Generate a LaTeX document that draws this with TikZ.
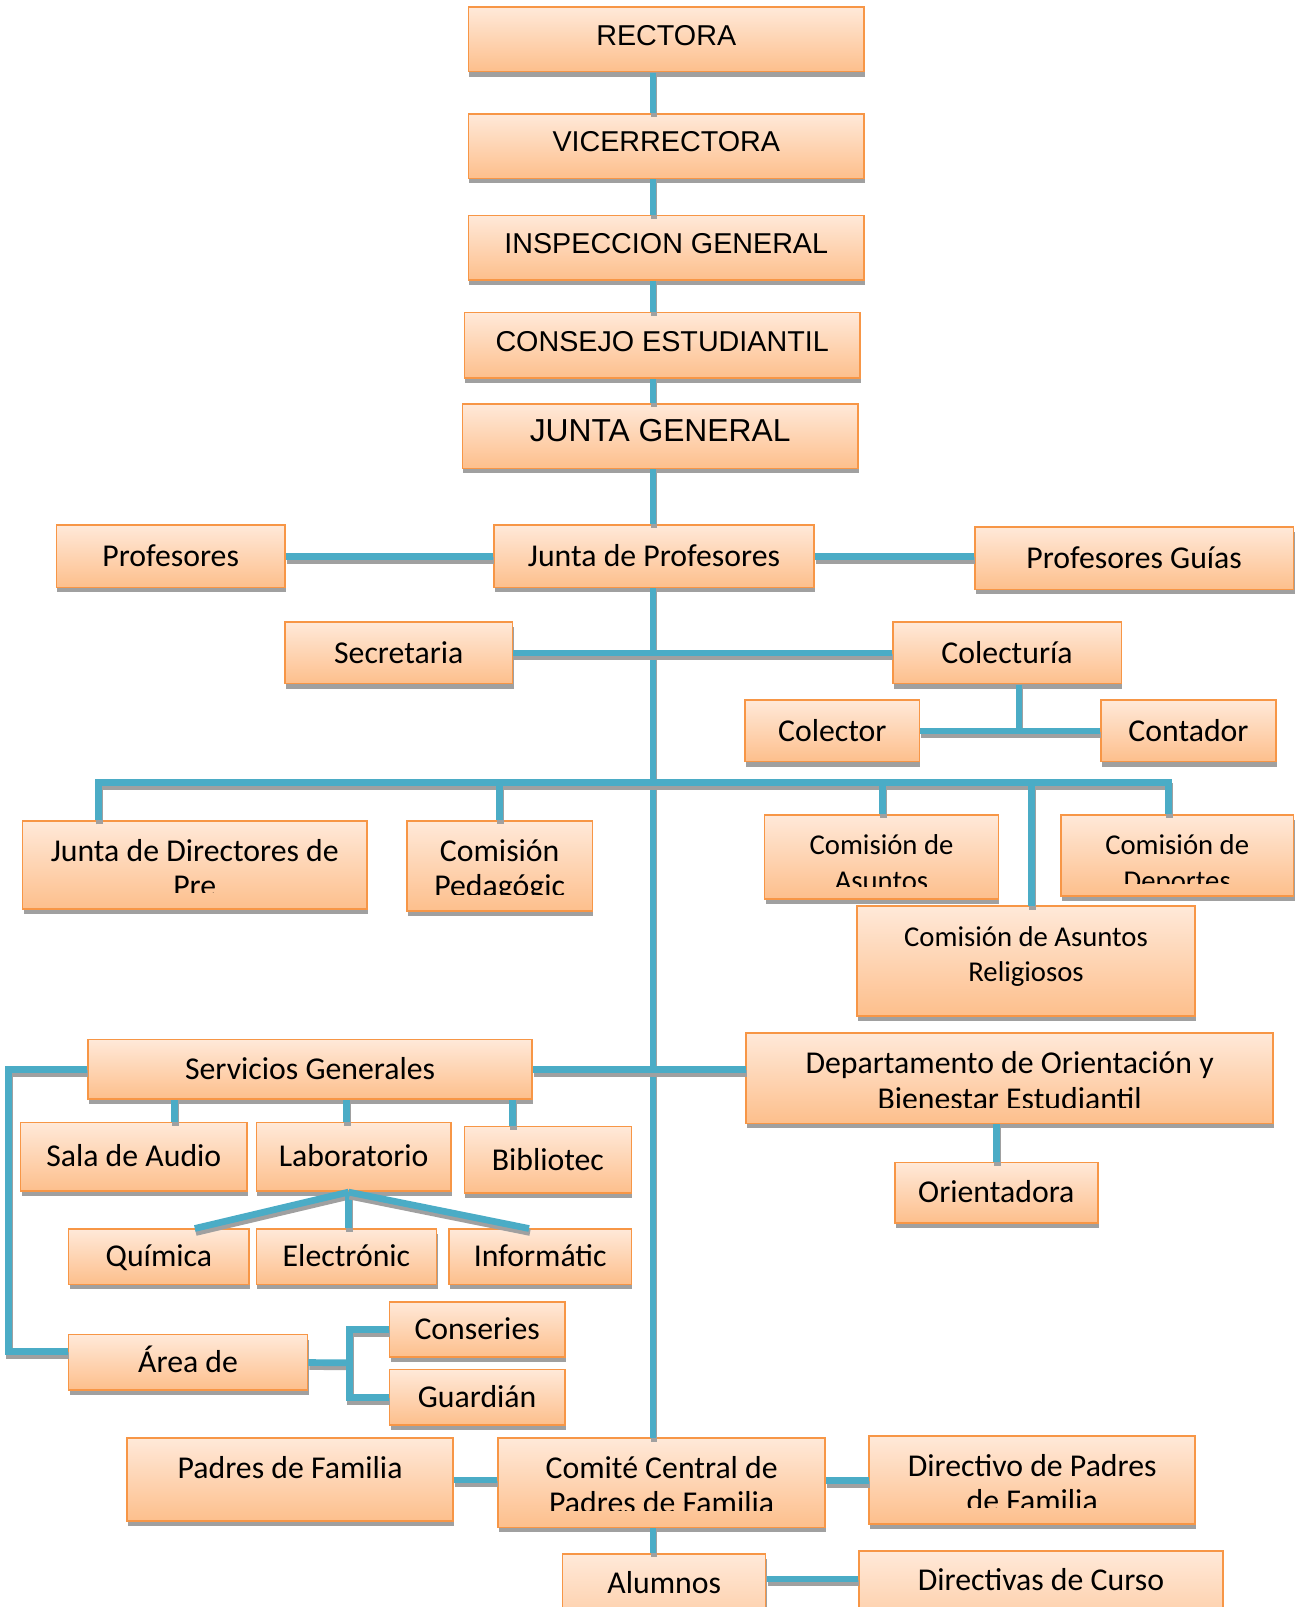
\documentclass[tikz,border=0pt]{standalone}
\usepackage{fontspec}
\setmainfont{Carlito}
\newfontfamily\arialfont{Liberation Sans}
\usetikzlibrary{shadows}
\definecolor{boxtop}{HTML}{FFE9D9}
\definecolor{boxbot}{HTML}{FDBF8C}
\definecolor{boxline}{HTML}{F79646}
\definecolor{linkblue}{HTML}{4BACC6}
\definecolor{shadowgray}{HTML}{A0A0A0}
\newcommand\calfont{\fontsize{31}{36}\selectfont}
\newcommand\calsmall{\fontsize{28}{34}\selectfont}
\newcommand\capsfont{\arialfont\fontsize{28}{34}\selectfont}
\newcommand\capsbig{\arialfont\fontsize{31}{36}\selectfont}

\tikzset{
  clipcut/.store in=\clipcut, clipcut=16,
  box/.style={draw=boxline, line width=1.5pt, top color=boxtop, bottom color=boxbot,
    inner sep=0pt, text height=20pt, text depth=0pt,
    drop shadow={shadow xshift=1pt, shadow yshift=-5pt, fill=shadowgray, opacity=1}},
  caps/.style={font=\capsfont, text depth=9pt},
  small/.style={font=\calsmall, clipcut=12},
  sz/.style 2 args={minimum width=#1pt, minimum height=#2pt},
  tall/.style 2 args={path picture={
    \clip ([yshift=\clipcut pt]path picture bounding box.south west) rectangle (path picture bounding box.north east);
    \node[anchor=base, inner sep=0pt, minimum size=0pt] at ([yshift=-39pt]path picture bounding box.north) {#1};
    \node[anchor=base, inner sep=0pt, minimum size=0pt] at ([yshift=-74pt]path picture bounding box.north) {#2};}},
  link/.style={draw=linkblue, line width=6.7pt,
    preaction={draw=shadowgray, line width=6.7pt, transform canvas={shift={(1pt,-4pt)}}}}
}

\begin{document}
\begin{tikzpicture}[x=1pt, y=-1pt, scale=1.025, transform shape, font=\calfont]
\useasboundingbox (0,0) rectangle (1266.3,1567.8);

% direccion
\node[box, caps, sz={386}{63}] (rect) at (650,38.5) {RECTORA};
\node[box, caps, sz={386}{63}] (vice) at (650,142.5) {VICERRECTORA};
\node[box, caps, sz={386}{63}] (insp) at (650,241.5) {INSPECCION GENERAL};
\node[box, caps, sz={386}{64}] (cons) at (646,337) {CONSEJO ESTUDIANTIL};
\node[box, caps, font=\capsbig, sz={386}{63}] (jgen) at (644,425.5) {JUNTA GENERAL};

% profesores
\node[box, sz={223}{61}] (prof) at (166.5,542.5) {Profesores};
\node[box, sz={312}{61}] (jprof) at (638,542.5) {Junta de Profesores};
\node[box, sz={311}{61}] (guias) at (1106.5,544.5) {Profesores Guías};
\node[box, sz={222}{60}] (secre) at (389,637) {Secretaria};
\node[box, sz={223}{60}] (colect) at (982.5,637) {Colecturía};
\node[box, sz={170}{60}] (colector) at (812,713) {Colector};
\node[box, sz={171}{60}] (conta) at (1159.5,713) {Contador};

% comisiones
\node[box, sz={336}{86}, tall={Junta de Directores de}{Pre}] (jdir) at (190,844) {};
\node[box, sz={181}{88}, tall={Comisión}{Pedagógic}] (cped) at (487.5,845) {};
\node[box, small, sz={228}{82}, tall={Comisión de}{Asuntos}] (casu) at (860,836) {};
\node[box, small, sz={227}{79}, tall={Comisión de}{Deportes}] (cdep) at (1148.5,834.5) {};
\node[box, small, sz={330}{107}, tall={Comisión de Asuntos}{Religiosos}] (crel) at (1001,937.5) {};

% servicios
\node[box, sz={433}{58}] (serv) at (302.5,1043) {Servicios Generales};
\node[box, sz={514}{88}, tall={Departamento de Orientación y}{Bienestar Estudiantil}] (depto) at (985,1052) {};
\node[box, sz={198}{59}] (ori) at (972,1163.5) {Orientadora};
\node[box, sz={221}{67}] (sala) at (130.5,1128.5) {Sala de Audio};
\node[box, sz={190}{67}] (lab) at (345,1128.5) {Laboratorio};
\node[box, sz={163}{65}] (bib) at (534.5,1131.5) {Bibliotec};
\node[box, sz={176}{54}] (quim) at (155,1226) {Química};
\node[box, sz={176}{54}] (elec) at (338,1226) {Electrónic};
\node[box, sz={178}{54}] (info) at (527,1226) {Informátic};
\node[box, sz={233}{54}] (area) at (183.5,1329) {Área de};
\node[box, sz={171}{54}] (conse) at (465.5,1297) {Conseries};
\node[box, sz={171}{54}] (guard) at (465.5,1363) {Guardián};

% padres y alumnos
\node[box, sz={318}{81}, tall={Padres de Familia}{}] (padres) at (283,1443.5) {};
\node[box, sz={319}{87}, tall={Comité Central de}{Padres de Familia}] (comite) at (645.5,1446.5) {};
\node[box, sz={318}{86}, tall={Directivo de Padres}{de Familia}] (dirp) at (1007,1444) {};
\node[box, sz={198}{104}, tall={Alumnos}{}] (alum) at (648,1568) {};
\node[box, sz={355}{107}, tall={Directivas de Curso}{}] (dcur) at (1015.5,1566.5) {};

% guias
\coordinate (t) at (637,0);
\coordinate (cj) at (994,713);
\coordinate (b1) at (96,763);
\coordinate (b2) at (487,763);
\coordinate (b3) at (861,763);
\coordinate (b4) at (1006,763);
\coordinate (b5) at (1140,763);
\coordinate (s1) at (170,0);
\coordinate (s2) at (338,0);
\coordinate (s3) at (500,0);
\coordinate (f) at (340,0);
\coordinate (q) at (190,0);
\coordinate (i) at (516,0);
\coordinate (lw) at (8,0);
\coordinate (ad) at (0,1540);
\path (area.east) ++(40,0) coordinate (ag);

% conectores
\draw[link] (t |- rect.south) -- (t |- vice.north);
\draw[link] (t |- vice.south) -- (t |- insp.north);
\draw[link] (t |- insp.south) -- (t |- cons.north);
\draw[link] (t |- cons.south) -- (t |- jgen.north);
\draw[link] (t |- jgen.south) -- (t |- jprof.north);
\draw[link] (t |- jprof.south) -- (t |- comite.north);
\draw[link] (t |- comite.south) -- (t |- alum.north);
\draw[link] (prof.east) -- (jprof.west);
\draw[link] (jprof.east) -- (jprof.east -| guias.west);
\draw[link] (secre.east) -- (colect.west);
\draw[link] (colect.south -| cj) -- (cj);
\draw[link] (colector.east) -- (conta.west);
\draw[link] (jdir.north -| b1) |- (b5) -- (b5 |- cdep.north);
\draw[link] (b2) -- (b2 |- cped.north);
\draw[link] (b3) -- (b3 |- casu.north);
\draw[link] (b4) -- (b4 |- crel.north);
\draw[link] (serv.east) -- (serv.east -| depto.west);
\draw[link] (ori.north |- depto.south) -- (ori.north);
\draw[link] (serv.south -| s1) -- (s1 |- sala.north);
\draw[link] (serv.south -| s2) -- (s2 |- lab.north);
\draw[link] (serv.south -| s3) -- (s3 |- bib.north);
\draw[link] (lab.south -| f) -- (quim.north -| q);
\draw[link] (lab.south -| f) -- (elec.north -| f);
\draw[link] (lab.south -| f) -- (info.north -| i);
\draw[link] (serv.west) -- (serv.west -| lw) |- ([yshift=11pt]area.west);
\draw[link] (area.east) -- (ag);
\draw[link] (conse.west) -| (ag) |- (guard.west);
\draw[link] (padres.east) -- (padres.east -| comite.west);
\draw[link] (dirp.west -| comite.east) -- (dirp.west);
\draw[link] (alum.east |- ad) -- (dcur.west |- ad);
\end{tikzpicture}
\end{document}
